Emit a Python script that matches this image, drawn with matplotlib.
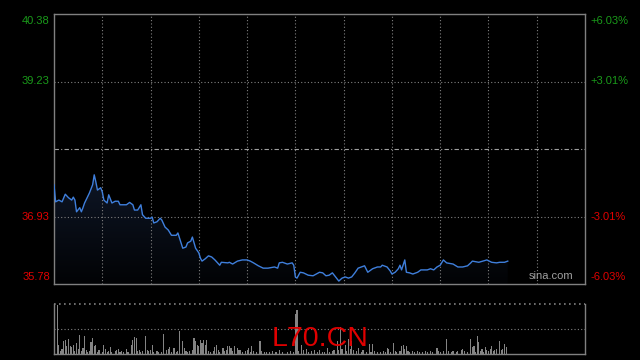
import numpy as np
import matplotlib.pyplot as plt

# intraday price (minute index, price)
t = [0, 1, 3, 5, 7, 9, 11, 12, 13, 14, 16, 17, 18, 19, 22, 24, 25, 26, 27, 29,
     30, 31, 33, 34, 36, 38, 40, 41, 45, 47, 49, 50, 52, 54, 55, 57, 60, 61, 62, 64,
     66, 67, 69, 71, 73, 76, 77, 79, 80, 82, 83, 85, 86, 88, 90, 91, 92, 94, 96, 98,
     100, 103, 104, 108, 109, 111, 114, 117, 120, 122, 124, 127, 130, 133, 137, 139, 140, 142, 145, 148,
     149, 150, 151, 153, 155, 158, 161, 163, 165, 167, 169, 171, 173, 175, 177, 179, 181, 183, 185, 187,
     189, 191, 193, 195, 198, 201, 203, 204, 207, 209, 210, 212, 214, 215, 216, 218, 219, 221, 223, 226,
     228, 230, 232, 234, 236, 238, 240, 242, 244, 248, 251, 254, 257, 259, 260, 264, 269, 272, 275, 277,
     280, 282]
price = [37.47, 37.18, 37.21, 37.18, 37.31, 37.25, 37.21, 37.26, 37.21, 37.01, 37.08, 37.01, 37.08, 37.16, 37.33, 37.47, 37.64, 37.52, 37.38, 37.42,
         37.35, 37.21, 37.16, 37.30, 37.16, 37.19, 37.19, 37.13, 37.13, 37.17, 37.13, 37.04, 37.04, 37.13, 36.96, 36.90, 36.90, 36.92, 36.82, 36.84,
         36.90, 36.87, 36.75, 36.70, 36.61, 36.61, 36.65, 36.48, 36.39, 36.41, 36.48, 36.51, 36.58, 36.39, 36.31, 36.22, 36.17, 36.21, 36.26, 36.24,
         36.19, 36.10, 36.15, 36.14, 36.15, 36.12, 36.17, 36.19, 36.19, 36.17, 36.14, 36.09, 36.05, 36.05, 36.07, 36.05, 36.14, 36.15, 36.12, 36.14,
         36.10, 35.90, 35.88, 35.98, 35.97, 35.93, 35.92, 35.95, 35.98, 35.97, 35.92, 35.93, 35.97, 35.90, 35.83, 35.88, 35.90, 35.88, 35.90, 35.97,
         36.05, 36.07, 36.09, 35.98, 36.04, 36.07, 36.07, 36.10, 36.07, 36.00, 35.95, 35.98, 36.04, 36.10, 36.02, 36.19, 35.98, 35.97, 35.95, 35.98,
         36.02, 36.02, 36.02, 36.04, 36.02, 36.07, 36.10, 36.19, 36.14, 36.12, 36.07, 36.07, 36.09, 36.14, 36.17, 36.15, 36.19, 36.15, 36.14, 36.15,
         36.15, 36.17]

# volume bars (minute index, height)
vt = [0, 2, 3, 4, 5, 6, 7, 8, 9, 10, 11, 12, 13, 14, 15, 16, 17, 18, 19, 20,
      21, 22, 23, 24, 25, 26, 27, 28, 30, 31, 32, 33, 34, 35, 36, 38, 39, 40, 41, 42,
      43, 45, 46, 48, 49, 50, 51, 52, 53, 54, 55, 57, 58, 59, 60, 61, 62, 64, 65, 67,
      68, 70, 71, 72, 73, 74, 75, 76, 77, 78, 80, 81, 82, 83, 84, 86, 87, 88, 89, 90,
      91, 92, 93, 94, 95, 96, 97, 99, 100, 101, 102, 103, 105, 106, 107, 108, 109, 110, 111, 112,
      114, 115, 116, 117, 119, 120, 121, 122, 123, 124, 126, 128, 129, 131, 132, 134, 136, 138, 140, 142,
      145, 147, 149, 150, 151, 152, 154, 155, 157, 158, 160, 162, 164, 165, 167, 168, 170, 171, 173, 174,
      176, 177, 178, 179, 181, 182, 183, 184, 185, 186, 188, 189, 191, 192, 194, 196, 197, 198, 199, 201,
      203, 205, 206, 207, 208, 209, 211, 212, 213, 215, 216, 217, 218, 219, 220, 221, 223, 224, 226, 227,
      229, 231, 232, 234, 235, 238, 239, 240, 242, 244, 245, 247, 248, 250, 251, 253, 254, 255, 257, 259,
      260, 261, 262, 263, 264, 265, 266, 267, 268, 269, 270, 271, 272, 273, 274, 275, 277, 278, 279, 280,
      281]
vol = [28, 49, 9, 3, 5, 13, 14, 8, 15, 8, 7, 9, 3, 11, 5, 19, 3, 6, 18, 4,
       2, 3, 12, 16, 8, 9, 2, 4, 2, 9, 5, 2, 3, 7, 2, 3, 4, 5, 2, 3,
       2, 5, 2, 9, 14, 17, 16, 3, 4, 2, 3, 18, 4, 3, 4, 9, 2, 3, 2, 2,
       20, 4, 5, 7, 2, 6, 6, 2, 3, 23, 13, 6, 3, 2, 3, 4, 16, 13, 9, 8,
       14, 11, 14, 9, 14, 3, 2, 3, 7, 9, 4, 2, 6, 3, 4, 8, 8, 6, 3, 8,
       6, 4, 4, 2, 3, 4, 6, 2, 8, 3, 2, 13, 3, 2, 2, 2, 3, 2, 4, 2,
       2, 3, 2, 40, 44, 3, 9, 4, 5, 2, 3, 4, 2, 4, 2, 2, 6, 2, 3, 4,
       13, 4, 27, 5, 9, 3, 15, 5, 13, 4, 3, 6, 2, 4, 2, 10, 2, 10, 3, 2,
       2, 3, 2, 6, 5, 2, 11, 3, 2, 3, 8, 9, 5, 8, 3, 2, 3, 2, 3, 2,
       2, 3, 2, 3, 2, 6, 3, 2, 3, 15, 3, 2, 3, 2, 3, 4, 5, 3, 2, 15,
       7, 8, 2, 18, 12, 3, 5, 2, 7, 4, 3, 5, 8, 3, 4, 5, 13, 4, 5, 10,
       7]

prev_close = 38.08
lo, hi = 35.78, 40.38
left_labels = ['40.38', '39.23', '', '36.93', '35.78']
right_labels = ['+6.03%', '+3.01%', '', '-3.01%', '-6.03%']

green = '#1a9a1a'
red = '#e00000'
gray = '#808080'

fig = plt.figure(figsize=(6.4, 3.6), dpi=100, facecolor='black')
ax = fig.add_axes([54/640, 1-284/360, 531/640, 270/360], facecolor='black')
ax2 = fig.add_axes([54/640, 1-354/360, 531/640, 50/360], facecolor='black')

ax.set_xlim(0, 330)
ax.set_ylim(lo, hi)
levels = np.linspace(hi, lo, 5)
for x in range(30, 330, 30):
    ax.axvline(x, color=gray, lw=0.8, ls=(0, (1, 2)))
for i, y in enumerate(levels[1:4]):
    if i == 1:
        ax.axhline(y, color='#a0a0a0', lw=0.8, ls=(0, (4, 2, 1, 2)))
    else:
        ax.axhline(y, color=gray, lw=0.8, ls=(0, (1, 2)))

# gradient fill under the line
top = max(price)
poly = ax.fill_between(t, price, lo, color='none', lw=0)
grad = np.linspace(0, 1, 100).reshape(-1, 1)
img = ax.imshow(grad, extent=[0, max(t), lo, top], origin='lower', aspect='auto',
                cmap=plt.matplotlib.colors.LinearSegmentedColormap.from_list('g', ['#020305', '#0e1626']),
                zorder=1)
path = poly.get_paths()[0]
img.set_clip_path(path, transform=ax.transData)
ax.plot(t, price, color='#3f7fdc', lw=1.0, zorder=3)

for s in ax.spines.values():
    s.set_color(gray)
    s.set_linewidth(1)
ax.set_xticks([])
ax.set_yticks([])

for i, y in enumerate(levels):
    if not left_labels[i]:
        continue
    c = green if i < 2 else red
    va = 'top' if i == 0 else ('bottom' if i == 4 else 'center')
    dy = -1.5 if i == 0 else (1.5 if i == 4 else 0)
    ax.annotate(left_labels[i], (0, y), xytext=(-3, dy), textcoords='offset points',
                ha='right', va=va, color=c, fontsize=8, family='Liberation Sans')
    ax.annotate(right_labels[i], (330, y), xytext=(4, dy), textcoords='offset points',
                ha='left', va=va, color=c, fontsize=8, family='Liberation Sans')

ax.text(0.978, 0.01, 'sina.com', transform=ax.transAxes, ha='right', va='bottom',
        color='#a0a0a0', fontsize=8, family='Liberation Sans', zorder=4)

# volume panel
ax2.set_xlim(0, 330)
ax2.set_ylim(0, 50)
ax2.bar(vt, vol, width=0.7, color='#848484', lw=0)
ax2.axhline(25, color=gray, lw=0.8, ls=(0, (1, 2)))
ax2.axhline(50, color=gray, lw=1.2, ls=(0, (1, 2)), clip_on=False)
ax2.spines['top'].set_visible(False)
for k in ['left', 'right', 'bottom']:
    ax2.spines[k].set_color(gray)
    ax2.spines[k].set_linewidth(1)
ax2.set_xticks([])
ax2.set_yticks([])

fig.text(320/640, 1-339/360, 'L70.CN', ha='center', va='center', color=red, fontsize=20.5,
         family='Liberation Sans')

fig.savefig('out.png', dpi=100, facecolor='black')
